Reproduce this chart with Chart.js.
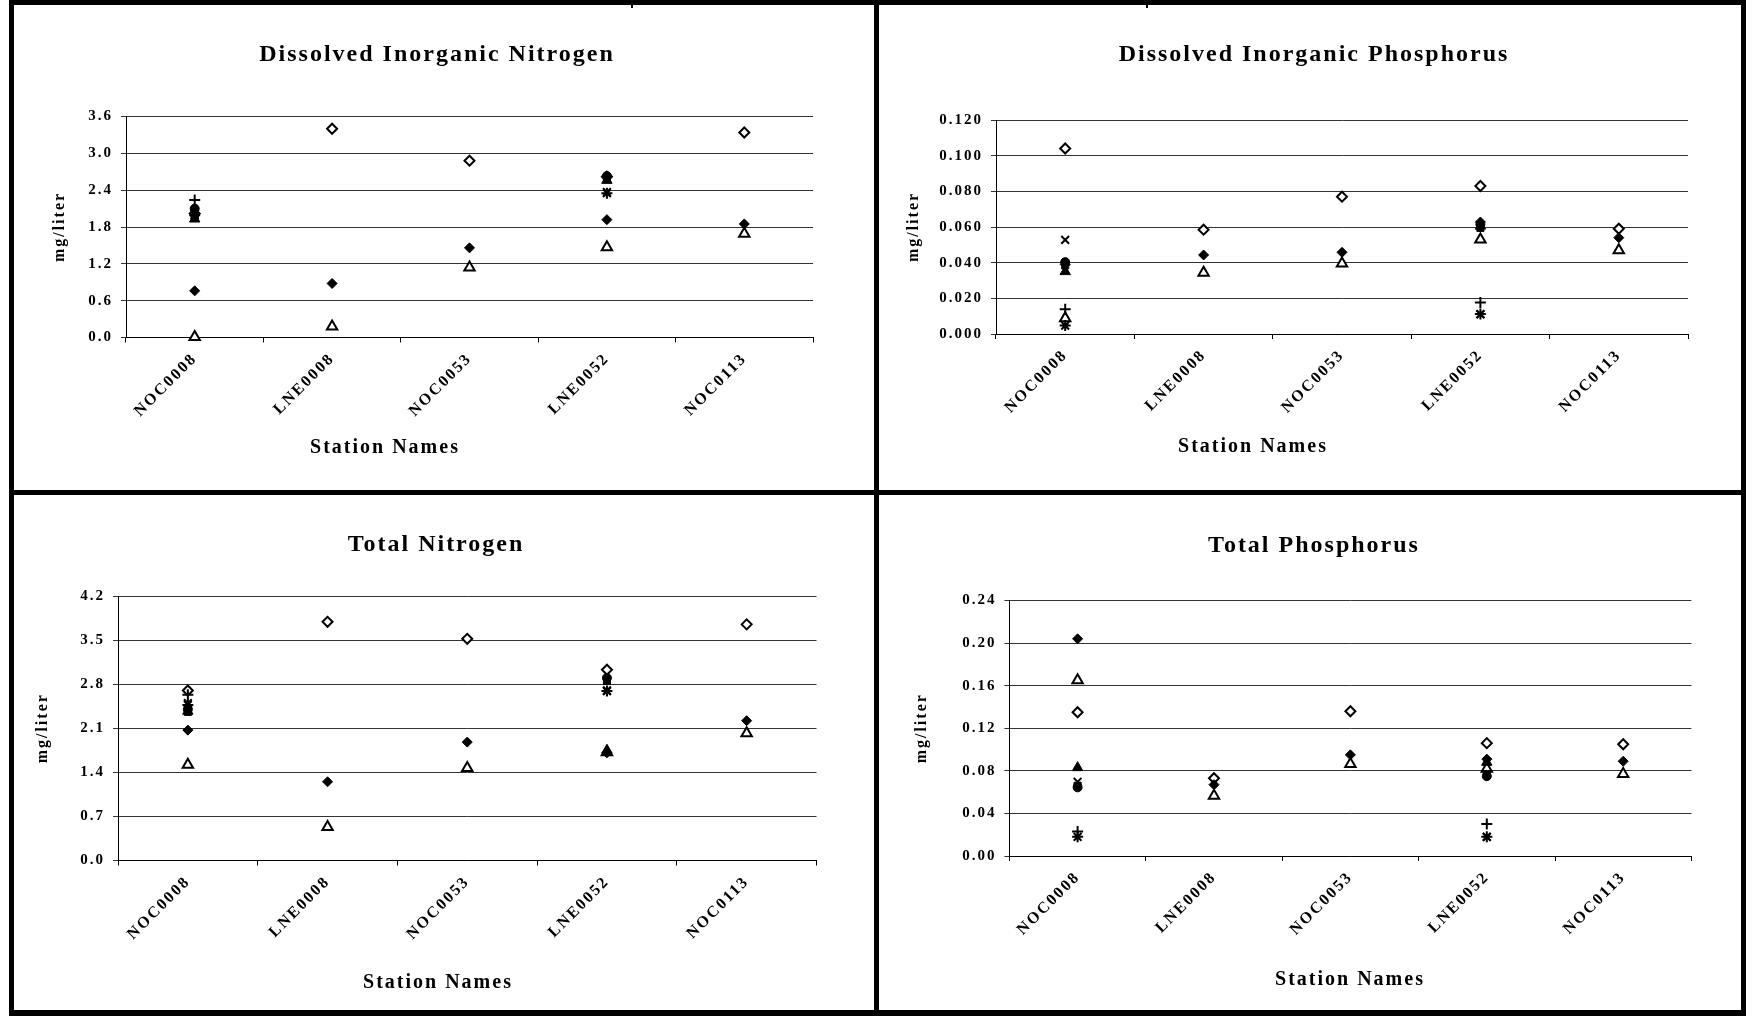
<!DOCTYPE html>
<html>
<head>
<meta charset="utf-8">
<script src="https://cdn.jsdelivr.net/npm/chart.js@4.4.1/dist/chart.umd.min.js"></script>
<style>
  html, body { margin: 0; padding: 0; background: #fff; }
  body { width: 1752px; height: 1016px; position: relative; overflow: hidden; }
  .cell { position: absolute; }
  .rule { position: absolute; background: #000; }
</style>
</head>
<body>
<div class="rule" style="left:9px;top:0;width:1737px;height:5px"></div>
<div class="rule" style="left:9px;top:1010px;width:1737px;height:6px"></div>
<div class="rule" style="left:9px;top:0;width:5px;height:1016px"></div>
<div class="rule" style="left:1741px;top:0;width:5px;height:1016px"></div>
<div class="rule" style="left:9px;top:490px;width:1737px;height:5px"></div>
<div class="rule" style="left:874px;top:0;width:5px;height:1016px"></div>
<div class="rule" style="left:631px;top:0;width:2px;height:8px"></div>
<div class="rule" style="left:1146px;top:0;width:2px;height:8px"></div>

<div class="cell" style="left:14px;top:5px"><canvas id="din" width="860" height="485"></canvas></div>
<div class="cell" style="left:879px;top:5px"><canvas id="dip" width="862" height="485"></canvas></div>
<div class="cell" style="left:14px;top:495px"><canvas id="tn" width="860" height="515"></canvas></div>
<div class="cell" style="left:879px;top:495px"><canvas id="tp" width="862" height="515"></canvas></div>

<script>
const STATIONS = ['NOC0008', 'LNE0008', 'NOC0053', 'LNE0052', 'NOC0113'];

// Dissolved Inorganic Nitrogen, mg/liter
const DIN_PLUS          = [2.24, null, null, null, null];
const DIN_X             = [2.02, null, null, 2.37, null];
const DIN_STAR          = [1.99, null, null, 2.35, null];
const DIN_DIAMOND       = [0.76, 0.88, 1.46, 1.92, 1.85];
const DIN_CIRCLE        = [2.10, null, null, 2.63, null];
const DIN_TRIANGLE      = [1.93, null, null, 2.56, null];
const DIN_SQUARE        = [1.95, null, null, 2.58, null];
const DIN_OPEN_TRIANGLE = [0.01, 0.18, 1.14, 1.47, 1.69];
const DIN_OPEN_DIAMOND  = [2.02, 3.40, 2.88, 2.62, 3.34];
const DIN_TICKS = [0, 0.6, 1.2, 1.8, 2.4, 3.0, 3.6];

// Dissolved Inorganic Phosphorus, mg/liter
const DIP_PLUS          = [0.0139, null, null, 0.0176, null];
const DIP_X             = [0.0528, null, null, 0.0110, null];
const DIP_STAR          = [0.0047, null, null, 0.0112, null];
const DIP_DIAMOND       = [0.0390, 0.0443, 0.0458, 0.0628, 0.0540];
const DIP_CIRCLE        = [0.0403, null, null, 0.0615, null];
const DIP_TRIANGLE      = [0.0350, null, null, 0.0605, null];
const DIP_SQUARE        = [0.0385, null, null, 0.0595, null];
const DIP_OPEN_TRIANGLE = [0.0088, 0.0343, 0.0395, 0.0530, 0.0470];
const DIP_OPEN_DIAMOND  = [0.1040, 0.0585, 0.0770, 0.0830, 0.0590];
const DIP_TICKS = [0, 0.02, 0.04, 0.06, 0.08, 0.10, 0.12];

// Total Nitrogen, mg/liter
const TN_PLUS          = [2.63, null, null, null, null];
const TN_X             = [2.50, null, null, 2.70, null];
const TN_STAR          = [2.47, null, null, 2.69, null];
const TN_DIAMOND       = [2.07, 1.25, 1.88, 1.71, 2.22];
const TN_CIRCLE        = [2.40, null, null, 2.90, null];
const TN_TRIANGLE      = [2.37, null, null, 1.75, null];
const TN_SQUARE        = [2.36, null, null, 2.85, null];
const TN_OPEN_TRIANGLE = [1.52, 0.53, 1.47, 1.72, 2.02];
const TN_OPEN_DIAMOND  = [2.70, 3.79, 3.52, 3.03, 3.75];
const TN_TICKS = [0, 0.7, 1.4, 2.1, 2.8, 3.5, 4.2];

// Total Phosphorus, mg/liter
const TP_PLUS          = [0.023, null, null, 0.030, null];
const TP_X             = [0.0697, null, null, 0.018, null];
const TP_STAR          = [0.018, null, null, 0.018, null];
const TP_DIAMOND       = [0.204, 0.067, 0.095, 0.091, 0.089];
const TP_CIRCLE        = [0.0645, null, null, 0.075, null];
const TP_TRIANGLE      = [0.083, null, null, 0.088, null];
const TP_SQUARE        = [0.066, null, null, 0.077, null];
const TP_OPEN_TRIANGLE = [0.165, 0.0565, 0.0865, 0.082, 0.077];
const TP_OPEN_DIAMOND  = [0.135, 0.073, 0.136, 0.106, 0.105];
const TP_TICKS = [0, 0.04, 0.08, 0.12, 0.16, 0.20, 0.24];

// marker look, same order as the series lists below
const MARKERS = [
    {style: 'cross',    fill: '#000', r: 5.5, bw: 2},
    {style: 'crossRot', fill: '#000', r: 5.5, bw: 2},
    {style: 'star',     fill: '#000', r: 5.5, bw: 2},
    {style: 'rectRot',  fill: '#000', r: 5,   bw: 1},
    {style: 'circle',   fill: '#000', r: 4.5, bw: 1},
    {style: 'triangle', fill: '#000', r: 6,   bw: 1},
    {style: 'rect',     fill: '#000', r: 5,   bw: 1},
    {style: 'triangle', fill: '#fff', r: 6,   bw: 2},
    {style: 'rectRot',  fill: '#fff', r: 5,   bw: 2},
];

const SERIF = '"Liberation Serif", "Times New Roman", serif';

const PANELS = [
    {id: 'din', title: 'Dissolved Inorganic Nitrogen', ticks: DIN_TICKS, digits: 1,
     series: [DIN_PLUS, DIN_X, DIN_STAR, DIN_DIAMOND, DIN_CIRCLE, DIN_TRIANGLE, DIN_SQUARE, DIN_OPEN_TRIANGLE, DIN_OPEN_DIAMOND],
     box: {top: 111.5, right: 61, yWidth: 112, yTitle: 35.9, xHeight: 152.5, titleX: 423, titleY: 50, capX: 371, capY: 443}},
    {id: 'dip', title: 'Dissolved Inorganic Phosphorus', ticks: DIP_TICKS, digits: 3,
     series: [DIP_PLUS, DIP_X, DIP_STAR, DIP_DIAMOND, DIP_CIRCLE, DIP_TRIANGLE, DIP_SQUARE, DIP_OPEN_TRIANGLE, DIP_OPEN_DIAMOND],
     box: {top: 115, right: 53, yWidth: 117, yTitle: 25.4, xHeight: 156, titleX: 435, titleY: 50, capX: 374, capY: 442}},
    {id: 'tn', title: 'Total Nitrogen', ticks: TN_TICKS, digits: 1,
     series: [TN_PLUS, TN_X, TN_STAR, TN_DIAMOND, TN_CIRCLE, TN_TRIANGLE, TN_SQUARE, TN_OPEN_TRIANGLE, TN_OPEN_DIAMOND],
     box: {top: 101, right: 57.5, yWidth: 104, yTitle: 18.9, xHeight: 149.5, titleX: 422, titleY: 50, capX: 424, capY: 488}},
    {id: 'tp', title: 'Total Phosphorus', ticks: TP_TICKS, digits: 2,
     series: [TP_PLUS, TP_X, TP_STAR, TP_DIAMOND, TP_CIRCLE, TP_TRIANGLE, TP_SQUARE, TP_OPEN_TRIANGLE, TP_OPEN_DIAMOND],
     box: {top: 105.5, right: 49.6, yWidth: 130.4, yTitle: 32.9, xHeight: 154, titleX: 435, titleY: 51, capX: 471, capY: 485}},
];

// wide letter spacing, like the old spreadsheet print
const spacing = {
    id: 'spacing',
    beforeUpdate(chart) { chart.ctx.letterSpacing = '2px'; },
    beforeDraw(chart) { chart.ctx.letterSpacing = '2px'; }
};

// panel heading and x caption sit off centre in the original, so they are drawn here
function headings(title, b) {
    const put = (ctx, text, size, x, y) => {
        ctx.font = 'bold ' + size + 'px ' + SERIF;
        ctx.fillText(text, x, y);
    };
    return {
        id: 'headings',
        afterDraw(chart) {
            const ctx = chart.ctx;
            ctx.save();
            ctx.letterSpacing = '2px';
            ctx.fillStyle = '#000';
            ctx.textAlign = 'center';
            ctx.textBaseline = 'middle';
            put(ctx, title, 24, b.titleX, b.titleY);
            put(ctx, 'Station Names', 20, b.capX, b.capY);
            ctx.restore();
        }
    };
}

PANELS.forEach(p => {
    const b = p.box;
    new Chart(document.getElementById(p.id), {
        type: 'line',
        data: {
            labels: STATIONS,
            datasets: p.series.map((values, i) => ({
                data: values,
                showLine: false,
                clip: false,
                pointStyle: MARKERS[i].style,
                pointRadius: MARKERS[i].r,
                pointBorderWidth: MARKERS[i].bw,
                pointBackgroundColor: MARKERS[i].fill,
                pointBorderColor: '#000',
            })),
        },
        options: {
            responsive: false,
            animation: false,
            events: [],
            layout: {padding: {top: b.top, right: b.right, bottom: 0, left: 0}},
            plugins: {
                legend: {display: false},
                tooltip: {enabled: false},
            },
            scales: {
                x: {
                    offset: true,
                    grid: {offset: true, drawOnChartArea: false, tickLength: 5, color: '#000'},
                    border: {color: '#000'},
                    ticks: {
                        autoSkip: false, minRotation: 45, maxRotation: 45, padding: 7,
                        color: '#000', font: {family: SERIF, size: 16, weight: 'bold'},
                    },
                    afterFit: s => { s.height = b.xHeight; },
                },
                y: {
                    min: p.ticks[0],
                    max: p.ticks[p.ticks.length - 1],
                    afterBuildTicks: s => { s.ticks = p.ticks.map(v => ({value: v})); },
                    grid: {color: '#333', tickLength: 5},
                    border: {color: '#000'},
                    ticks: {
                        padding: 8, color: '#000',
                        font: {family: SERIF, size: 15, weight: 'bold'},
                        callback: v => Number(v).toFixed(p.digits),
                    },
                    title: {
                        display: true, text: 'mg/liter', color: '#000',
                        font: {family: SERIF, size: 16, weight: 'bold'},
                        padding: {top: b.yTitle, bottom: 0},
                    },
                    afterFit: s => { s.width = b.yWidth; },
                },
            },
        },
        plugins: [spacing, headings(p.title, b)],
    });
});
</script>
</body>
</html>
